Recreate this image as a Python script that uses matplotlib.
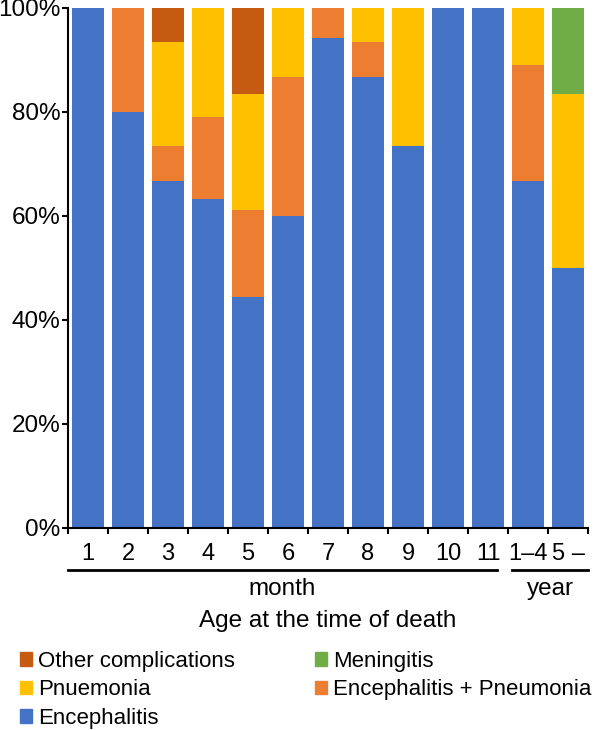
import matplotlib
matplotlib.use("Agg")
import matplotlib.pyplot as plt
import matplotlib.transforms as mtransforms
from matplotlib.patches import Patch
import numpy as np

plt.rcParams['font.family'] = ['Liberation Sans', 'DejaVu Sans']

categories = ["1", "2", "3", "4", "5", "6", "7", "8", "9", "10", "11", "1\u20134", "5 \u2013"]
encephalitis = [100, 80, 66.7, 63.2, 44.4, 60.0, 94.1, 86.7, 73.3, 100, 100, 66.7, 50.0]
enc_pneumonia = [0, 20, 6.7, 15.8, 16.7, 26.7, 5.9, 6.7, 0, 0, 0, 22.2, 0]
pneumonia = [0, 0, 20.0, 21.1, 22.2, 13.3, 0, 6.7, 26.7, 0, 0, 11.1, 33.3]
other = [0, 0, 6.7, 0, 16.7, 0, 0, 0, 0, 0, 0, 0, 0]
meningitis = [0, 0, 0, 0, 0, 0, 0, 0, 0, 0, 0, 0, 16.7]
yticks = [0, 20, 40, 60, 80, 100]
ytick_labels = ["0%", "20%", "40%", "60%", "80%", "100%"]

c_enc = "#4472C4"
c_ep = "#ED7D31"
c_pn = "#FFC000"
c_oth = "#C55A11"
c_men = "#70AD47"

W, H = 596, 730
FS = 17.5
fig = plt.figure(figsize=(W / 100, H / 100), dpi=100)
ax = fig.add_axes([68 / W, 1 - 528 / H, 520 / W, (528 - 7.5) / H])

x = np.arange(len(categories))
bw = 0.82
b = np.zeros(len(categories))
series = [(encephalitis, c_enc), (enc_pneumonia, c_ep), (pneumonia, c_pn),
          (other, c_oth), (meningitis, c_men)]
for vals, col in series:
    v = np.array(vals, dtype=float)
    ax.bar(x, v, bw, bottom=b, color=col, linewidth=0)
    b = b + v

ax.set_xlim(-0.5, len(categories) - 0.5)
ax.set_ylim(0, 100)
ax.set_yticks(yticks)
ax.set_yticklabels(ytick_labels, fontsize=FS)
ax.tick_params(axis='y', length=4.5, width=1.5, pad=1, direction='out')

ax.set_xticks(x)
ax.set_xticklabels(categories, fontsize=17)
ax.tick_params(axis='x', which='major', length=0, pad=11)
ax.set_xticks(np.arange(-0.5, len(categories), 1.0), minor=True)
ax.tick_params(axis='x', which='minor', length=4.5, width=1.5, direction='out')

for s in ['top', 'right']:
    ax.spines[s].set_visible(False)
for s in ['left', 'bottom']:
    ax.spines[s].set_linewidth(1.5)

# group brackets
trans = mtransforms.blended_transform_factory(ax.transData, fig.transFigure)
yl = 1 - 570 / H
ax.plot([-0.5, 10.23], [yl, yl], color='black', lw=2, transform=trans, clip_on=False)
ax.plot([10.6, 12.5], [yl, yl], color='black', lw=2, transform=trans, clip_on=False)
yt = 1 - 589 / H
ax.text((-0.5 + 10.23) / 2, yt, "month", transform=trans, ha='center', va='center', fontsize=FS)
ax.text((10.6 + 12.5) / 2, yt, "year", transform=trans, ha='center', va='center', fontsize=FS)
ax.text(0.5, 1 - 621 / H, "Age at the time of death",
        transform=mtransforms.blended_transform_factory(ax.transAxes, fig.transFigure),
        ha='center', va='center', fontsize=FS)

LFS = 16
h1 = [Patch(color=c_oth, label="Other complications"),
      Patch(color=c_pn, label="Pnuemonia"),
      Patch(color=c_enc, label="Encephalitis")]
h2 = [Patch(color=c_men, label="Meningitis"),
      Patch(color=c_ep, label="Encephalitis + Pneumonia")]
kw = dict(loc='upper left', frameon=False, fontsize=LFS, handlelength=0.55,
          handleheight=0.55, handletextpad=0.25, labelspacing=0.33,
          borderpad=0, borderaxespad=0)
leg1 = fig.legend(handles=h1, bbox_to_anchor=(20 / W, 1 - 651 / H), **kw)
leg2 = fig.legend(handles=h2, bbox_to_anchor=(315 / W, 1 - 651 / H), **kw)

fig.savefig("out.png", dpi=100)
